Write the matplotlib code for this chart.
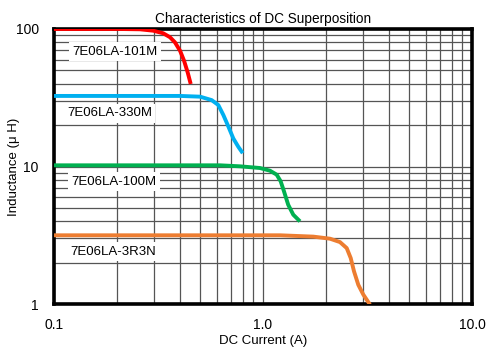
import matplotlib
matplotlib.use("Agg")
import matplotlib.pyplot as plt
from matplotlib.ticker import FixedLocator, FixedFormatter, LogLocator, NullFormatter

plt.rcParams['font.family'] = ['Liberation Sans', 'DejaVu Sans']

# Data
red_x = [0.1, 0.15, 0.207, 0.258, 0.2985, 0.333, 0.359, 0.379, 0.401, 0.419, 0.436, 0.451]
red_y = [100, 100, 100, 99.5, 97.2, 93.1, 87.1, 80.0, 69.5, 58.8, 48.4, 39.8]

blue_x = [0.1, 0.2, 0.3, 0.401, 0.5, 0.568, 0.611, 0.646, 0.683, 0.721, 0.762, 0.80]
blue_y = [32.6, 32.6, 32.6, 32.6, 32.2, 30.4, 28.0, 23.7, 19.5, 16.0, 13.9, 12.5]

green_x = [0.1, 0.3, 0.623, 0.776, 0.967, 1.08, 1.163, 1.215, 1.26, 1.32, 1.396, 1.503]
green_y = [10.2, 10.2, 10.2, 10.03, 9.75, 9.32, 8.72, 7.80, 6.60, 5.27, 4.46, 3.99]

orange_x = [0.1, 0.5, 1.206, 1.741, 2.092, 2.335, 2.515, 2.628, 2.725, 2.857, 3.02, 3.25]
orange_y = [3.16, 3.16, 3.16, 3.09, 2.985, 2.82, 2.55, 2.16, 1.73, 1.38, 1.17, 0.99]

series_names = ["7E06LA-101M", "7E06LA-330M", "7E06LA-100M", "7E06LA-3R3N"]
series_colors = ["#FF0000", "#00B0F0", "#00B050", "#ED7D31"]

x_ticks = [0.1, 1.0, 10.0]
x_tick_labels = ["0.1", "1.0", "10.0"]
y_ticks = [1, 10, 100]
y_tick_labels = ["1", "10", "100"]

fig = plt.figure(figsize=(5.01, 3.56), dpi=100)
ax = fig.add_axes([54/501, 52/356, 418/501, 275/356])

ax.set_xscale('log')
ax.set_yscale('log')
ax.set_xlim(0.1, 10)
ax.set_ylim(1, 100)

ax.xaxis.set_major_locator(FixedLocator(x_ticks))
ax.xaxis.set_major_formatter(FixedFormatter(x_tick_labels))
ax.yaxis.set_major_locator(FixedLocator(y_ticks))
ax.yaxis.set_major_formatter(FixedFormatter(y_tick_labels))
ax.xaxis.set_minor_locator(LogLocator(base=10, subs=range(2, 10)))
ax.yaxis.set_minor_locator(LogLocator(base=10, subs=range(2, 10)))
ax.xaxis.set_minor_formatter(NullFormatter())
ax.yaxis.set_minor_formatter(NullFormatter())

ax.grid(True, which='both', color='#555555', linewidth=0.9)
ax.set_axisbelow(True)
ax.tick_params(which='both', length=0, labelsize=10)
ax.tick_params(axis='x', pad=10)
ax.tick_params(axis='y', pad=11)

for s in ax.spines.values():
    s.set_linewidth(2.6)
    s.set_color('black')

xs = [red_x, blue_x, green_x, orange_x]
ys = [red_y, blue_y, green_y, orange_y]
for x, y, c in zip(xs, ys, series_colors):
    ax.plot(x, y, color=c, linewidth=2.8, solid_capstyle='butt',
            solid_joinstyle='round', zorder=3)

label_pos = [(72, 51.7), (67, 113.3), (71, 181.7), (70, 251.7)]
for name, (px, py) in zip(series_names, label_pos):
    ax.text((px - 54) / 418, (304 - py) / 275, name, transform=ax.transAxes,
            fontsize=9.5, va='center', ha='left',
            bbox=dict(facecolor='white', edgecolor='none', pad=2.5), zorder=4)

ax.set_title("Characteristics of DC Superposition", fontsize=9.8, pad=4)
ax.set_xlabel("DC Current (A)", fontsize=9.5, labelpad=2)
ax.set_ylabel("Inductance (\u03bc H)", fontsize=9.5)
ax.yaxis.set_label_coords((20 - 54) / 418, 0.5)

fig.savefig("out.png", dpi=100)
